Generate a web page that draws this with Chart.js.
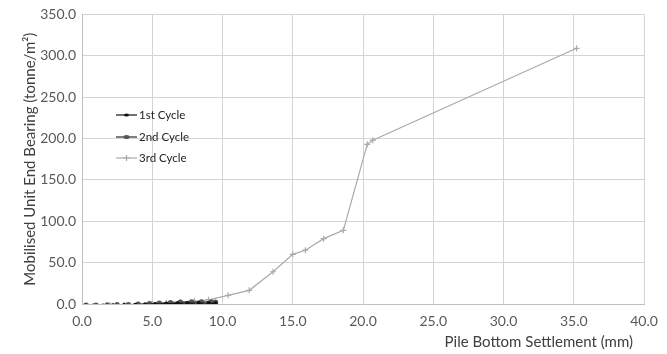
<!DOCTYPE html>
<html><head><meta charset="utf-8">
<script src="https://cdn.jsdelivr.net/npm/chart.js@4/dist/chart.umd.min.js"></script>
<style>html,body{margin:0;padding:0;background:#fff}#wrap{width:667px;height:354px}</style>
</head><body><div id="wrap"><canvas id="c" width="667" height="354"></canvas></div>
<script>
const seriesLabels = ["1st Cycle", "2nd Cycle", "3rd Cycle"];
const cycle1X = [0.2, 0.8, 1.5, 2.2, 3.0, 3.8, 4.5, 5.2, 6.0, 6.8, 7.5, 8.3, 9.0, 9.5];
const cycle1Y = [-2.0, -2.0, -1.8, -1.5, -1.2, -1.0, -0.5, 0.0, 0.5, 0.8, 1.0, 1.2, 1.0, 0.8];
const cycle2X = [0.3, 1.0, 1.8, 2.5, 3.3, 4.0, 4.8, 5.5, 6.3, 7.0, 7.8, 8.5, 9.2, 9.5];
const cycle2Y = [-1.5, -1.5, -1.2, -1.0, -0.8, -0.3, 0.3, 1.0, 1.5, 2.0, 2.3, 2.5, 2.5, 2.0];
const cycle3X = [0.3, 1.0, 2.0, 3.0, 4.0, 5.0, 6.0, 7.0, 8.0, 9.0, 10.4, 11.9, 13.6, 15.0, 15.9, 17.2, 18.6, 20.3, 20.7, 35.2];
const cycle3Y = [-2.0, -2.0, -1.5, -1.0, -0.5, 0.5, 1.5, 2.5, 3.5, 5.0, 10.5, 16.5, 39.0, 60.0, 65.0, 79.0, 89.0, 193.0, 198.0, 309.0];
const xTicks = [0, 5, 10, 15, 20, 25, 30, 35, 40];
const yTicks = [0, 50, 100, 150, 200, 250, 300, 350];
const xTitle = 'Pile Bottom Settlement (mm)';
const yTitle = 'Mobilised Unit End Bearing (tonne/m²)';

const pts = (xs, ys) => xs.map((x, i) => ({x: x, y: ys[i]}));
const FONT = "Lato, 'Open Sans', sans-serif";

const extrasPlugin = {
  id: 'extras',
  afterDatasetsDraw(chart) {
    const ctx = chart.ctx;
    const x0 = 116, ys = [115, 137, 158];
    chart.data.datasets.forEach((ds, i) => {
      const y = ys[i];
      ctx.save();
      ctx.strokeStyle = ds.borderColor;
      ctx.lineWidth = ds.borderWidth;
      ctx.beginPath(); ctx.moveTo(x0, y); ctx.lineTo(x0 + 21, y); ctx.stroke();
      ctx.fillStyle = ds.pointBackgroundColor;
      ctx.strokeStyle = ds.pointBorderColor;
      if (ds.pointStyle === 'cross') {
        ctx.beginPath(); ctx.moveTo(x0 + 10.5, y - 3); ctx.lineTo(x0 + 10.5, y + 3);
        ctx.moveTo(x0 + 7.5, y); ctx.lineTo(x0 + 13.5, y); ctx.stroke();
      } else {
        ctx.beginPath(); ctx.ellipse(x0 + 10.5, y, ds.pointRadius + 1, ds.pointRadius, 0, 0, Math.PI * 2); ctx.fill();
      }
      ctx.fillStyle = '#222';
      ctx.font = "11.5px " + FONT;
      ctx.textBaseline = 'middle';
      ctx.textAlign = 'left';
      ctx.fillText(ds.label, x0 + 23, y);
      ctx.restore();
    });
    ctx.save();
    ctx.fillStyle = '#404040';
    ctx.font = "15px " + FONT;
    ctx.textAlign = 'right';
    ctx.textBaseline = 'middle';
    ctx.fillText(xTitle, 633, 342);
    ctx.restore();
  }
};

new Chart(document.getElementById('c'), {
  type: 'scatter',
  data: {
    datasets: [
      {label: seriesLabels[0], data: pts(cycle1X, cycle1Y), showLine: true, borderColor: '#111', borderWidth: 1.2,
       pointBackgroundColor: '#111', pointBorderColor: '#111', pointRadius: 1.5, pointStyle: 'circle'},
      {label: seriesLabels[1], data: pts(cycle2X, cycle2Y), showLine: true, borderColor: '#555', borderWidth: 1.5,
       pointBackgroundColor: '#555', pointBorderColor: '#555', pointRadius: 2, pointStyle: 'circle'},
      {label: seriesLabels[2], data: pts(cycle3X, cycle3Y), showLine: true, borderColor: '#aaa', borderWidth: 1.2,
       pointBackgroundColor: '#aaa', pointBorderColor: '#aaa', pointRadius: 3, pointStyle: 'cross'}
    ]
  },
  options: {
    responsive: false,
    animation: false,
    layout: {padding: {left: 0, right: 23, top: 11, bottom: 0}},
    plugins: {legend: {display: false}, tooltip: {enabled: false}},
    scales: {
      x: {
        type: 'linear', min: 0, max: 40,
        afterBuildTicks: s => { s.ticks = xTicks.map(v => ({value: v})); },
        afterFit: s => { s.height = 50; },
        grid: {color: '#d4d4d4', lineWidth: 1, drawTicks: false},
        border: {color: '#bfbfbf'},
        ticks: {color: '#595959', font: {family: FONT, size: 14}, padding: 9, maxRotation: 0,
                callback: v => v.toFixed(1)},
        title: {display: false}
      },
      y: {
        type: 'linear', min: 0, max: 350,
        afterBuildTicks: s => { s.ticks = yTicks.map(v => ({value: v})); },
        afterFit: s => { s.width = 82; },
        grid: {color: '#d4d4d4', lineWidth: 1, drawTicks: false},
        border: {color: '#bfbfbf'},
        ticks: {color: '#595959', font: {family: FONT, size: 14}, padding: 6,
                callback: v => v.toFixed(1)},
        title: {display: true, text: yTitle, color: '#404040',
                font: {family: FONT, size: 15}, padding: {top: 21, bottom: 0}}
      }
    }
  },
  plugins: [extrasPlugin]
});
</script></body></html>
